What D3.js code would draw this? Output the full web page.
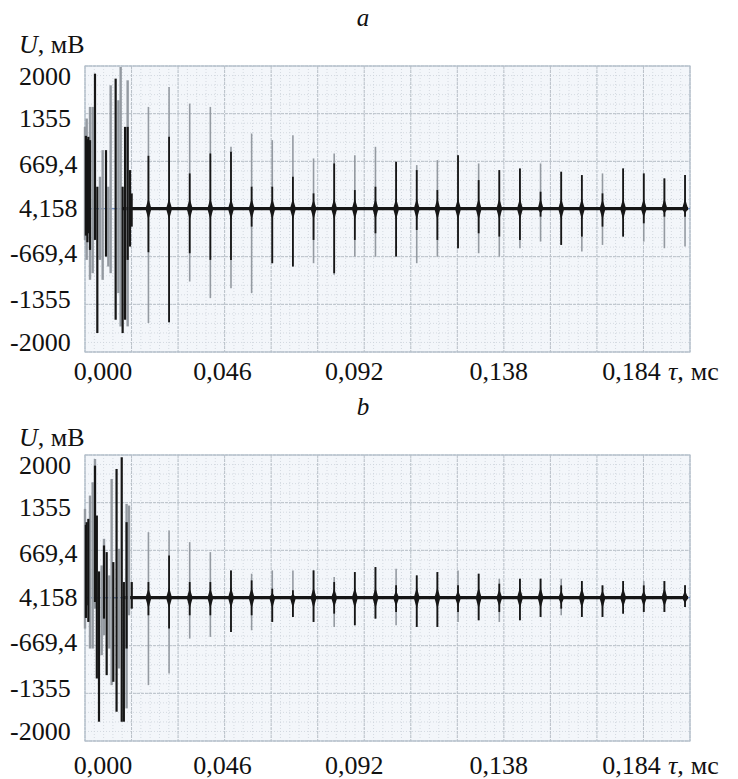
<!DOCTYPE html>
<html>
<head>
<meta charset="utf-8">
<script src="https://cdn.jsdelivr.net/npm/d3@7/dist/d3.min.js"></script>
<style>
  body { margin: 0; background: #fff; }
  svg { display: block; }
</style>
</head>
<body>
<div id="viz_div"></div>
<script>
// TICK LABELS
// ---------------------------------------------------------------------------------------------------------------------------------
const yTicks = [2000, 1355, 669.4, 4.158, -669.4, -1355, -2000];
const yTickText = ["2000", "1355", "669,4", "4,158", "-669,4", "-1355", "-2000"];
const xTicks = [0, 0.046, 0.092, 0.138, 0.184];
const xTickText = ["0,000", "0,046", "0,092", "0,138", "0,184"];

// REGULAR PULSES (ms) - same timing in both records
// ---------------------------------------------------------------------------------------------------------------------------------
const pulseTimes = [0.0209, 0.0277, 0.0345, 0.0413, 0.0481, 0.0549, 0.0617, 0.0685, 0.0753, 0.0821, 0.0889, 0.0957, 0.1025, 0.1093,
  0.1161, 0.1229, 0.1297, 0.1365, 0.1433, 0.1501, 0.1569, 0.1637, 0.1705, 0.1773, 0.1841, 0.1909, 0.1977];

// record a, mV
const aGrayMax = [1535, 1835, 1585, 1535, 935, 1135, 1035, 1110, 760, 835, 810, 935, 710, 660, 735, 810, 685, 585, 610, 685, 560, 510, 535, 610, 535, 460, 510];
const aDarkMax = [800, 1085, 535, 835, 860, 335, 335, 485, 235, 685, 285, 335, 710, 585, 285, 810, 435, 585, 610, 260, 560, 510, 235, 610, 535, 460, 510];
const aDarkMin = [-650, -1700, -665, -765, -765, -265, -815, -865, -465, -965, -465, -365, -715, -315, -465, -590, -365, -415, -465, -115, -540, -415, -265, -415, -215, -115, -115];
const aGrayMin = [-1715, -1715, -1090, -1340, -1190, -1265, -815, -865, -815, -990, -715, -715, -715, -815, -715, -590, -665, -715, -590, -490, -540, -640, -540, -415, -490, -590, -565];

// record b, mV
const bGrayMax = [990, 1015, 840, 690, 415, 365, 415, 415, 415, 315, 390, 465, 440, 340, 390, 415, 365, 290, 290, 290, 290, 255, 190, 255, 255, 255, 190];
const bDarkMax = [240, 640, 240, 240, 415, 265, 140, 115, 415, 240, 390, 465, 190, 340, 390, 190, 365, 215, 290, 290, 190, 255, 190, 255, 190, 255, 190];
const bDarkMin = [-260, -460, -260, -260, -510, -260, -360, -285, -360, -235, -410, -310, -210, -435, -435, -210, -335, -210, -335, -285, -160, -285, -285, -235, -210, -210, -135];
const bGrayMin = [-1310, -1135, -610, -585, -510, -485, -360, -285, -360, -435, -410, -310, -410, -435, -435, -360, -335, -360, -335, -285, -260, -285, -285, -235, -210, -210, -135];

// INITIAL BURST (ms, mV, 1 = dark trace, 0 = grey trace)
// ---------------------------------------------------------------------------------------------------------------------------------
const aBurstT = [0, 0.0003, 0.00055, 0.0008, 0.0011, 0.00165, 0.00165, 0.00253, 0.00329, 0.00406, 0.00494, 0.00582, 0.00692, 0.00769,
  0.00845, 0.0101, 0.011, 0.01175, 0.0124, 0.0132, 0.01405, 0.01405, 0.01482, 0.01537];
const aBurstMax = [1235, 1100, 1360, 1050, 1085, 1535, 1035, 1535, 2035, 335, 485, 885, 885, 335, 1860, 1960, 1635, 2135, 335, 1235, 1935, 1235, 585, 235];
const aBurstMin = [-465, -400, -765, -500, -365, -1065, -615, -965, -465, -1865, -765, -1065, -715, -865, -965, -1665, -1265, -1765, -1865, -1665, -1765, -765, -565, -265];
const aBurstTone = [0, 1, 0, 1, 1, 0, 1, 0, 1, 1, 0, 0, 1, 0, 0, 1, 0, 0, 1, 1, 0, 1, 1, 1];

const bBurstT = [0, 0.0003, 0.00055, 0.0011, 0.00165, 0.00253, 0.00329, 0.00329, 0.0039, 0.00461, 0.00549, 0.00626, 0.00626, 0.00714,
  0.00801, 0.00878, 0.00933, 0.0104, 0.0112, 0.0121, 0.0128, 0.0137, 0.0137, 0.0145, 0.0154];
const bBurstMax = [1340, 1100, 1140, 1190, 1540, 1740, 2090, 1990, 1240, 400, 490, 890, 790, 690, 340, 1790, 540, 1940, 740, 2115, 240, 1415, 1140, 1390, 240];
const bBurstMin = [-460, -300, -110, -360, -760, -760, -160, -60, -1210, -1860, -860, -560, -310, -1160, -760, -1310, -1260, -1710, -1060, -1860, -1860, -1660, -760, -260, -160];
const bBurstTone = [0, 1, 1, 1, 0, 0, 0, 1, 1, 1, 0, 0, 1, 1, 0, 0, 1, 1, 0, 1, 1, 0, 1, 0, 1];

// LAYOUT
// ---------------------------------------------------------------------------------------------------------------------------------
const W = 738, H = 779;
const plotLeft = 85, plotRight = 690, plotH = 286;
const tMax = 0.046 / 3 * 13;
const xNudge = [18, -2, -10, -5, -12];
const grey = "#949aa1", dark = "#161616";
const serif = "'Liberation Serif', 'Times New Roman', serif";

const svg = d3.select("#viz_div").append("svg")
  .attr("width", W)
  .attr("height", H);

const x = d3.scaleLinear([0, tMax], [plotLeft, plotRight]);

function drawPanel(top, letter, rec, lay) {
  const y = d3.scaleLinear([-2150, 2150], [top + plotH, top]);
  const g = svg.append("g");

  // background + grid
  g.append("rect")
    .attr("x", plotLeft).attr("y", top)
    .attr("width", plotRight - plotLeft).attr("height", plotH)
    .attr("fill", "#f3f6fa");

  const minorX = d3.range(66).map(i => i * tMax / 65);
  const minorY = d3.range(31).map(i => -2150 + i * 4300 / 30);
  g.selectAll(".mx").data(minorX).enter().append("line")
    .attr("x1", d => x(d)).attr("x2", d => x(d))
    .attr("y1", top).attr("y2", top + plotH)
    .attr("stroke", "#cdd3da").attr("stroke-width", 0.8).attr("stroke-dasharray", "1,2");
  g.selectAll(".my").data(minorY).enter().append("line")
    .attr("y1", d => y(d)).attr("y2", d => y(d))
    .attr("x1", plotLeft).attr("x2", plotRight)
    .attr("stroke", "#cdd3da").attr("stroke-width", 0.8).attr("stroke-dasharray", "1,2");

  const majorX = d3.range(14).map(i => i * tMax / 13);
  const majorY = d3.range(7).map(i => -2150 + i * 4300 / 6);
  g.selectAll(".Mx").data(majorX).enter().append("line")
    .attr("x1", d => x(d)).attr("x2", d => x(d))
    .attr("y1", top).attr("y2", top + plotH)
    .attr("stroke", "#b9c0c8").attr("stroke-width", 1).attr("stroke-dasharray", "3,1");
  g.selectAll(".My").data(majorY).enter().append("line")
    .attr("y1", d => y(d)).attr("y2", d => y(d))
    .attr("x1", plotLeft).attr("x2", plotRight)
    .attr("stroke", "#b9c0c8").attr("stroke-width", 1).attr("stroke-dasharray", "3,1");

  g.append("rect")
    .attr("x", plotLeft).attr("y", top)
    .attr("width", plotRight - plotLeft).attr("height", plotH)
    .attr("fill", "none").attr("stroke", "#b4c0cc").attr("stroke-width", 1.2);

  // zero level
  g.append("line")
    .attr("x1", plotLeft).attr("x2", plotRight)
    .attr("y1", y(4.158)).attr("y2", y(4.158))
    .attr("stroke", "#5a7fc2").attr("stroke-width", 1);

  g.append("path")
    .datum([0.0125, pulseTimes[pulseTimes.length - 1] + 0.001])
    .attr("fill", "none").attr("stroke", dark).attr("stroke-width", 3.2)
    .attr("d", d3.line().x(d => x(d)).y(() => y(4.158)));

  // burst
  const burst = rec.bt.map((t, i) => ({ t: t, max: rec.bmax[i], min: rec.bmin[i], tone: rec.btone[i] }));
  g.selectAll(".burstG").data(burst.filter(d => !d.tone)).enter().append("line")
    .attr("x1", d => x(d.t)).attr("x2", d => x(d.t))
    .attr("y1", d => y(d.max)).attr("y2", d => y(d.min))
    .attr("stroke", grey).attr("stroke-width", 2.4);
  g.selectAll(".burstD").data(burst.filter(d => d.tone)).enter().append("line")
    .attr("x1", d => x(d.t)).attr("x2", d => x(d.t))
    .attr("y1", d => y(d.max)).attr("y2", d => y(d.min))
    .attr("stroke", dark).attr("stroke-width", 2.2);

  // regular pulses
  const pulses = pulseTimes.map((t, i) => ({ t: t, gmax: rec.gmax[i], dmax: rec.dmax[i], dmin: rec.dmin[i], gmin: rec.gmin[i] }));
  g.selectAll(".pg").data(pulses).enter().append("line")
    .attr("x1", d => x(d.t)).attr("x2", d => x(d.t))
    .attr("y1", d => y(d.gmax)).attr("y2", d => y(d.gmin))
    .attr("stroke", grey).attr("stroke-width", 1.6);
  g.selectAll(".pd").data(pulses).enter().append("line")
    .attr("x1", d => x(d.t)).attr("x2", d => x(d.t))
    .attr("y1", d => y(d.dmax)).attr("y2", d => y(d.dmin))
    .attr("stroke", dark).attr("stroke-width", 1.8);
  g.selectAll(".core").data(pulses).enter().append("path")
    .attr("fill", dark)
    .attr("d", d => {
      const cx = x(d.t), up = y(Math.min(d.dmax, 260) * 0.6), dn = y(Math.max(d.dmin, -260) * 0.6), mid = y(4.158);
      return `M${cx - 3},${mid} L${cx},${up} L${cx + 3},${mid} L${cx},${dn} Z`;
    });

  // y tick labels
  g.selectAll(".yt").data(yTicks).enter().append("text")
    .attr("x", (d, i) => yTickText[i].startsWith("-") ? 10 : 19)
    .attr("y", d => y(d))
    .attr("dy", "0.33em")
    .style("font-family", serif)
    .style("font-size", "26px")
    .attr("fill", "#111")
    .text((d, i) => yTickText[i]);

  // x tick labels
  const lblY = top + plotH + lay.xLabelGap;
  g.selectAll(".xt").data(xTicks).enter().append("text")
    .attr("x", (d, i) => x(d) + xNudge[i])
    .attr("y", lblY)
    .attr("text-anchor", "middle")
    .style("font-family", serif)
    .style("font-size", "26px")
    .attr("fill", "#111")
    .text((d, i) => xTickText[i]);

  const tl = g.append("text")
    .attr("x", 668).attr("y", lblY)
    .style("font-family", serif)
    .style("font-size", "26px")
    .attr("fill", "#111");
  tl.append("tspan").style("font-style", "italic").text("τ,");
  tl.append("tspan").attr("dx", 7).text("мс");

  const ul = g.append("text")
    .attr("x", 19).attr("y", top - lay.uGap)
    .style("font-family", serif)
    .style("font-size", "26px")
    .attr("fill", "#111");
  ul.append("tspan").style("font-style", "italic").text("U");
  ul.append("tspan").text(", мВ");

  g.append("text")
    .attr("x", 363).attr("y", top - 40)
    .attr("text-anchor", "middle")
    .style("font-family", serif)
    .style("font-size", "25px")
    .style("font-style", "italic")
    .attr("fill", "#111")
    .text(letter);
}

drawPanel(66, "a", { gmax: aGrayMax, dmax: aDarkMax, dmin: aDarkMin, gmin: aGrayMin, bt: aBurstT, bmax: aBurstMax, bmin: aBurstMin, btone: aBurstTone },
  { xLabelGap: 28, uGap: 13 });
drawPanel(455, "b", { gmax: bGrayMax, dmax: bDarkMax, dmin: bDarkMin, gmin: bGrayMin, bt: bBurstT, bmax: bBurstMax, bmin: bBurstMin, btone: bBurstTone },
  { xLabelGap: 33, uGap: 9 });
</script>
</body>
</html>
